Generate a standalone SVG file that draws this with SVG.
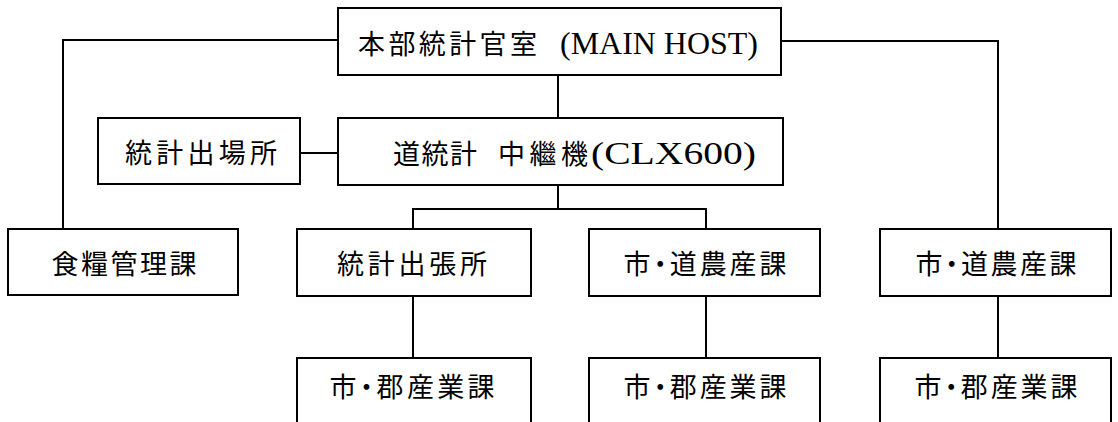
<svg xmlns="http://www.w3.org/2000/svg" width="1118" height="422" viewBox="0 0 1118 422">
<style>
.box{fill:#fff;stroke:#000;stroke-width:2}
.ln{fill:none;stroke:#000;stroke-width:2}
.jp{font-family:"Noto Sans CJK JP","Noto Sans CJK SC",sans-serif;font-size:27px;fill:#000}
.pa{font-feature-settings:"palt"}
.lat{font-family:"Liberation Serif","Noto Sans CJK JP",serif;font-size:31px;fill:#000}
</style>
<rect width="1118" height="422" fill="#fff"/>
<g id="connectors">
<polyline class="ln" points="338,40 63,40 63,229"/>
<polyline class="ln" points="781,41 998,41 998,229"/>
<line class="ln" x1="558" y1="75" x2="558" y2="118"/>
<line class="ln" x1="300" y1="153" x2="338" y2="153"/>
<line class="ln" x1="558" y1="185" x2="558" y2="209"/>
<polyline class="ln" points="413,229 413,209 706,209 706,229"/>
<line class="ln" x1="413" y1="296" x2="413" y2="358"/>
<line class="ln" x1="706" y1="296" x2="706" y2="358"/>
<line class="ln" x1="998" y1="296" x2="998" y2="358"/>
</g>
<g id="main-host">
<rect class="box" x="338" y="8" width="443" height="67"/>
<text class="jp" x="358" y="42" dominant-baseline="central" textLength="179" lengthAdjust="spacing">本部統計官室</text>
<text class="lat" x="560" y="43" dominant-baseline="central" textLength="198" lengthAdjust="spacingAndGlyphs">(MAIN HOST)</text>
</g>
<g id="relay">
<rect class="box" x="338" y="118" width="445" height="67"/>
<text class="jp" x="393" y="152" dominant-baseline="central" textLength="84" lengthAdjust="spacing">道統計</text>
<text class="jp" x="498" y="152" dominant-baseline="central" textLength="90" lengthAdjust="spacing">中繼機</text>
<text class="lat" x="591" y="153" dominant-baseline="central" textLength="165" lengthAdjust="spacingAndGlyphs">(CLX600)</text>
</g>
<g id="stat-office">
<rect class="box" x="98" y="118" width="202" height="66"/>
<text class="jp" x="201" y="151" text-anchor="middle" dominant-baseline="central" textLength="152" lengthAdjust="spacing">統計出場所</text>
</g>
<g id="food">
<rect class="box" x="8" y="229" width="230" height="66"/>
<text class="jp" x="124" y="262" text-anchor="middle" dominant-baseline="central" textLength="145" lengthAdjust="spacing">食糧管理課</text>
</g>
<g id="branch">
<rect class="box" x="297" y="229" width="234" height="67"/>
<text class="jp" x="412" y="262" text-anchor="middle" dominant-baseline="central" textLength="150" lengthAdjust="spacing">統計出張所</text>
</g>
<g id="agri-1">
<rect class="box" x="589" y="229" width="231" height="67"/>
<text class="jp pa" x="705" y="262" text-anchor="middle" dominant-baseline="central" textLength="163" lengthAdjust="spacing">市・道農産課</text>
</g>
<g id="agri-2">
<rect class="box" x="880" y="229" width="231" height="67"/>
<text class="jp pa" x="996" y="262" text-anchor="middle" dominant-baseline="central" textLength="161" lengthAdjust="spacing">市・道農産課</text>
</g>
<g id="industry-1">
<rect class="box" x="297" y="358" width="234" height="80"/>
<text class="jp pa" x="412" y="385" text-anchor="middle" dominant-baseline="central" textLength="165" lengthAdjust="spacing">市・郡産業課</text>
</g>
<g id="industry-2">
<rect class="box" x="589" y="358" width="231" height="80"/>
<text class="jp pa" x="705" y="385" text-anchor="middle" dominant-baseline="central" textLength="163" lengthAdjust="spacing">市・郡産業課</text>
</g>
<g id="industry-3">
<rect class="box" x="880" y="358" width="231" height="80"/>
<text class="jp pa" x="996" y="385" text-anchor="middle" dominant-baseline="central" textLength="163" lengthAdjust="spacing">市・郡産業課</text>
</g>
</svg>
